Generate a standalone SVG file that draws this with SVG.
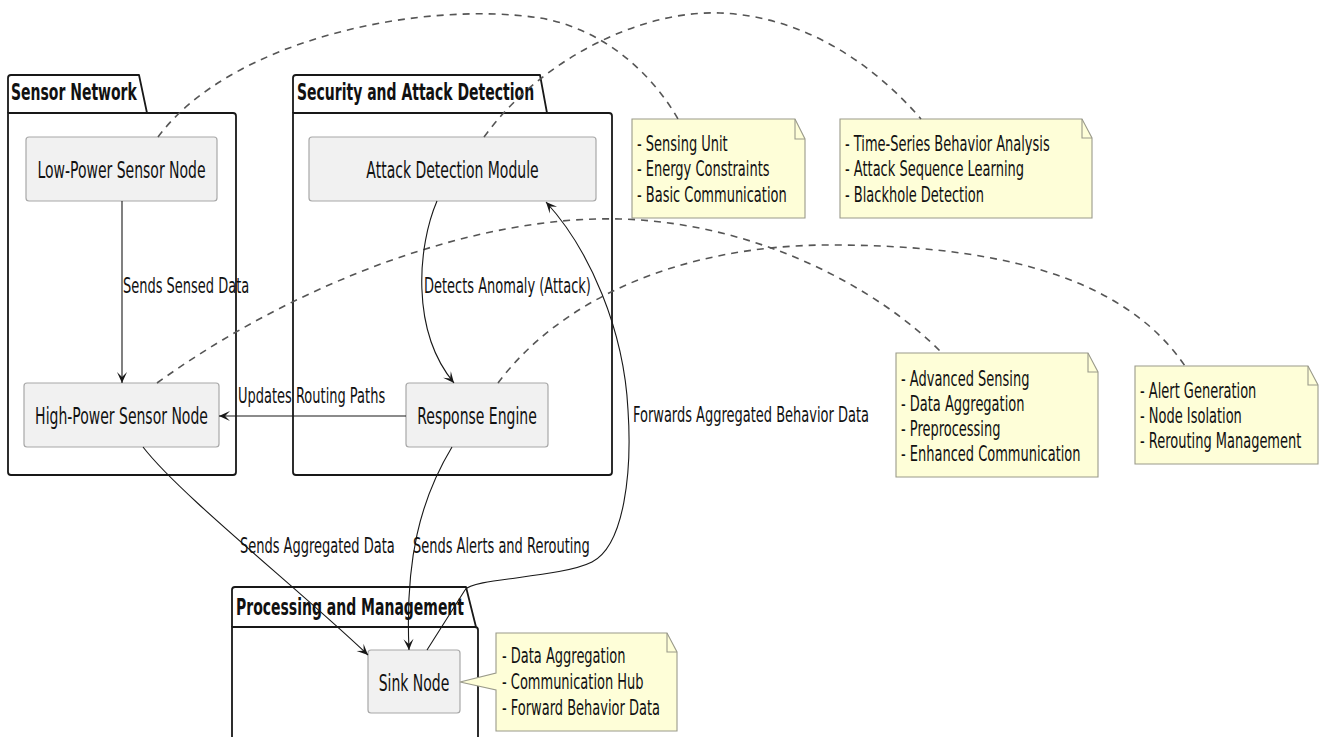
<svg xmlns="http://www.w3.org/2000/svg" width="1323" height="737" viewBox="0 0 1323 737">
<style>
.t{font-family:"DejaVu Sans","Liberation Sans",sans-serif;fill:#111;}
.node{font-size:14px;text-anchor:middle;}
.lbl{font-size:13px;}
.note{font-size:13px;}
.pkgt{font-size:14px;font-weight:bold;}
.pkg{fill:none;stroke:#181818;stroke-width:1.8;stroke-linejoin:round;}
.box{fill:#F1F1F1;stroke:#A8A8A8;stroke-width:1.2;}
.nt{fill:#FEFED8;stroke:#9A9A8A;stroke-width:1.1;}
.fold{fill:none;stroke:#9A9A8A;stroke-width:1.1;}
.e{fill:none;stroke:#181818;stroke-width:1.1;}
.d{fill:none;stroke:#555;stroke-width:1.6;stroke-dasharray:7 6;}
</style>
<defs>
<marker id="arr" viewBox="-12 -7 14 14" refX="0" refY="0" markerWidth="14" markerHeight="14" orient="auto" markerUnits="userSpaceOnUse">
<path d="M0,0 L-11,-5 L-6,0 L-11,5 Z" fill="#181818"/>
</marker>
</defs>
<rect width="1323" height="737" fill="#ffffff"/>

<g id="pkg-sensor">
<path class="pkg" d="M8,113 L8,78 Q8,75 11,75 L139,75 L147,113"/>
<path class="pkg" d="M8,113 L233,113 Q236,113 236,116 L236,472 Q236,475 233,475 L11,475 Q8,475 8,472 Z"/>
<text class="t pkgt" transform="translate(11,100) scale(1,1.65)">Sensor Network</text>
</g>
<g id="pkg-security">
<path class="pkg" d="M293,113 L293,78 Q293,75 296,75 L540,75 L547,113"/>
<path class="pkg" d="M293,113 L609,113 Q612,113 612,116 L612,472 Q612,475 609,475 L296,475 Q293,475 293,472 Z"/>
<text class="t pkgt" transform="translate(297,100) scale(1,1.65)">Security and Attack Detection</text>
</g>
<g id="pkg-processing">
<path class="pkg" d="M232,627 L232,590 Q232,587 235,587 L466,587 L476,627"/>
<path class="pkg" d="M232,745 L232,627 L475,627 Q478,627 478,630 L478,745"/>
<text class="t pkgt" transform="translate(236,615) scale(1,1.65)">Processing and Management</text>
</g>

<g id="n-lowpower">
<rect class="box" x="26" y="137" width="191" height="64" rx="3"/>
<text class="t node" transform="translate(121.5,177.5) scale(1,1.65)">Low-Power Sensor Node</text>
</g>
<g id="n-highpower">
<rect class="box" x="24" y="383" width="195" height="64" rx="3"/>
<text class="t node" transform="translate(121.5,423.5) scale(1,1.65)">High-Power Sensor Node</text>
</g>
<g id="n-attack">
<rect class="box" x="309" y="137" width="287" height="64" rx="3"/>
<text class="t node" transform="translate(452.5,177.5) scale(1,1.65)">Attack Detection Module</text>
</g>
<g id="n-response">
<rect class="box" x="406" y="383" width="142" height="64" rx="3"/>
<text class="t node" transform="translate(477,423.5) scale(1,1.65)">Response Engine</text>
</g>
<g id="n-sink">
<rect class="box" x="368" y="650" width="92" height="63" rx="3"/>
<text class="t node" transform="translate(414,691) scale(1,1.65)">Sink Node</text>
</g>

<g id="note-lowpower">
<path class="nt" d="M632,119 L795,119 L805,139 L805,218 L632,218 Z"/>
<path class="fold" d="M795,119 L795,139 L805,139"/>
<text class="t note" transform="translate(637,151) scale(1,1.65)">- Sensing Unit</text>
<text class="t note" transform="translate(637,176) scale(1,1.65)">- Energy Constraints</text>
<text class="t note" transform="translate(637,202) scale(1,1.65)">- Basic Communication</text>
</g>
<g id="note-attack">
<path class="nt" d="M840,119 L1082,119 L1092,138 L1092,218 L840,218 Z"/>
<path class="fold" d="M1082,119 L1082,138 L1092,138"/>
<text class="t note" transform="translate(845,151) scale(1,1.65)">- Time-Series Behavior Analysis</text>
<text class="t note" transform="translate(845,176) scale(1,1.65)">- Attack Sequence Learning</text>
<text class="t note" transform="translate(845,202) scale(1,1.65)">- Blackhole Detection</text>
</g>
<g id="note-highpower">
<path class="nt" d="M896,353 L1088,353 L1098,372 L1098,477 L896,477 Z"/>
<path class="fold" d="M1088,353 L1088,372 L1098,372"/>
<text class="t note" transform="translate(901,386) scale(1,1.65)">- Advanced Sensing</text>
<text class="t note" transform="translate(901,411) scale(1,1.65)">- Data Aggregation</text>
<text class="t note" transform="translate(901,436) scale(1,1.65)">- Preprocessing</text>
<text class="t note" transform="translate(901,461) scale(1,1.65)">- Enhanced Communication</text>
</g>
<g id="note-response">
<path class="nt" d="M1135,366 L1308,366 L1318,385 L1318,464 L1135,464 Z"/>
<path class="fold" d="M1308,366 L1308,385 L1318,385"/>
<text class="t note" transform="translate(1140,398) scale(1,1.65)">- Alert Generation</text>
<text class="t note" transform="translate(1140,423) scale(1,1.65)">- Node Isolation</text>
<text class="t note" transform="translate(1140,448) scale(1,1.65)">- Rerouting Management</text>
</g>
<g id="note-sink">
<path class="nt" d="M496,633 L667,633 L677,652 L677,731 L496,731 L496,690 L460,682 L496,673 Z"/>
<path class="fold" d="M667,633 L667,652 L677,652"/>
<text class="t note" transform="translate(502,663) scale(1,1.65)">- Data Aggregation</text>
<text class="t note" transform="translate(502,689) scale(1,1.65)">- Communication Hub</text>
<text class="t note" transform="translate(502,715) scale(1,1.65)">- Forward Behavior Data</text>
</g>

<g id="connectors">
<path class="d" d="M158,137 C230,40 420,0 540,18 C600,28 650,70 678,119"/>
<path class="d" d="M484,137 C540,60 640,10 720,13 C800,16 870,60 921,119"/>
<path class="d" d="M157,383 C300,280 480,215 620,219 C760,223 880,290 942,353"/>
<path class="d" d="M498,383 C560,300 680,245 830,245 C980,245 1120,270 1185,366"/>

<path class="e" d="M122,201 L122,383" marker-end="url(#arr)"/>
<path class="e" d="M437,201 C418,245 410,330 454,383" marker-end="url(#arr)"/>
<path class="e" d="M406,416 L219,416" marker-end="url(#arr)"/>
<path class="e" d="M143,447 C180,495 300,590 368,655" marker-end="url(#arr)"/>
<path class="e" d="M452,447 C420,500 405,560 409,650" marker-end="url(#arr)"/>
<path class="e" d="M427,650 L465,590 C472,578 560,578 592,562 C625,545 632,470 628,410 C624,330 590,250 546,202" marker-end="url(#arr)"/>

<text class="t lbl" transform="translate(123,293) scale(1,1.65)">Sends Sensed Data</text>
<text class="t lbl" transform="translate(424,293) scale(1,1.65)">Detects Anomaly (Attack)</text>
<text class="t lbl" transform="translate(238,403) scale(1,1.65)">Updates Routing Paths</text>
<text class="t lbl" transform="translate(633,422) scale(1,1.65)">Forwards Aggregated Behavior Data</text>
<text class="t lbl" transform="translate(240,553) scale(1,1.65)">Sends Aggregated Data</text>
<text class="t lbl" transform="translate(413,553) scale(1,1.65)">Sends Alerts and Rerouting</text>
</g>
</svg>
